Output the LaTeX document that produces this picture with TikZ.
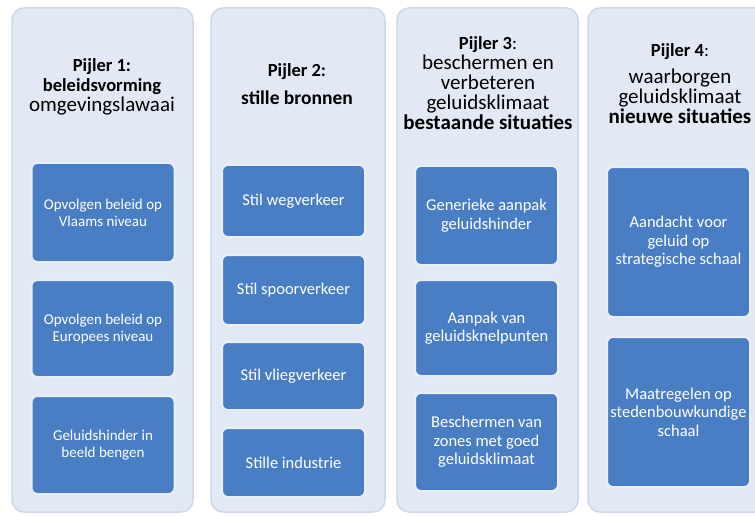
\documentclass[tikz,border=0pt]{standalone}
\usepackage{fontspec}
\setmainfont{Carlito}
\usetikzlibrary{positioning}

\definecolor{pilfill}{HTML}{E2E9F5}
\definecolor{pilline}{HTML}{CDD8EB}
\definecolor{boxfill}{HTML}{4A7EC4}
\definecolor{boxline}{HTML}{E8EEF8}

\newcommand{\pijkop}[1]{{\fontsize{18.5}{20}\selectfont #1}}

\begin{document}
\begin{tikzpicture}[
    x=1pt,y=-1pt,
    pijler/.style={draw=pilline,fill=pilfill,line width=1.5pt,rounded corners=12pt},
    maatr/.style={draw=boxline,fill=boxfill,line width=2pt,rounded corners=6pt,
      text=white,align=center,minimum width=143pt,inner sep=2pt,
      font=\fontsize{16.5}{18.5}\selectfont},
    klein/.style={font=\fontsize{15}{17}\selectfont},
    titel/.style={align=center,font=\fontsize{21}{20}\selectfont}
    ]

    \useasboundingbox (0,0) rectangle (755,516);
    \clip (0,0) rectangle (755,516);
    \fill [white] (0,0) rectangle (755,516);

    % pillars
    \draw [pijler] (12,8) rectangle (193,512);
    \draw [pijler] (211,8) rectangle (385,512);
    \draw [pijler] (397,8) rectangle (578,512);
    \draw [pijler] (588,8) rectangle (770,512);

    % titles
    \node [titel] (t1) at (102,87) {\pijkop{\textbf{Pijler 1:}}\\\pijkop{\textbf{beleidsvorming}}\\omgevingslawaai};
    \node [titel] (t2) at (297,84) {\pijkop{\textbf{Pijler 2:}}\\[8pt]{\fontsize{19.5}{20}\selectfont\textbf{stille bronnen}}};
    \node [titel] (t3) at (488,83.5) {\pijkop{\textbf{Pijler 3}:}\\beschermen en\\verbeteren\\geluidsklimaat\\\textbf{bestaande situaties}};
    \node [titel] (t4) at (680,83.5) {\pijkop{\textbf{Pijler 4}:}\\[7pt]waarborgen\\geluidsklimaat\\\textbf{nieuwe situaties}};

    % pijler 1
    \node [maatr,klein,minimum height=99pt] (b11) at (103,212.5) {Opvolgen beleid op\\Vlaams niveau};
    \node [maatr,klein,minimum height=97pt] (b12) at (103,328.5) {Opvolgen beleid op\\Europees niveau};
    \node [maatr,klein,minimum height=98pt] (b13) at (103,445) {Geluidshinder in\\beeld bengen};

    % pijler 2
    \node [maatr,minimum height=72pt] (b21) at (293.5,201) {Stil wegverkeer};
    \node [maatr,minimum height=70pt] (b22) at (293.5,290) {Stil spoorverkeer};
    \node [maatr,minimum height=68pt] (b23) at (293.5,376) {Stil vliegverkeer};
    \node [maatr,minimum height=69pt] (b24) at (293.5,462.5) {Stille industrie};

    % pijler 3
    \node [maatr,minimum height=99pt] (b31) at (486.5,215.5) {Generieke aanpak\\geluidshinder};
    \node [maatr,minimum height=96pt] (b32) at (486.5,328) {Aanpak van\\geluidsknelpunten};
    \node [maatr,minimum height=98pt] (b33) at (486.5,442) {Beschermen van\\zones met goed\\geluidsklimaat};

    % pijler 4
    \node [maatr,minimum height=150pt] (b41) at (678.5,242) {Aandacht voor\\geluid op\\strategische schaal};
    \node [maatr,minimum height=150pt] (b42) at (678.5,412) {Maatregelen op\\stedenbouwkundige\\schaal};
  \end{tikzpicture}
\end{document}
